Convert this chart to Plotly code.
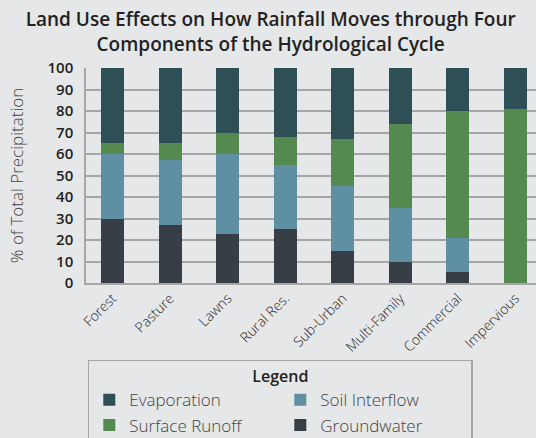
import plotly.graph_objects as go

categories = ["Forest", "Pasture", "Lawns", "Rural Res.", "Sub-Urban", "Multi-Family", "Commercial", "Impervious"]
groundwater = [30, 27, 23, 25, 15, 10, 5, 0]
soil_interflow = [30, 30, 37, 30, 30, 25, 16, 0]
surface_runoff = [5, 8, 10, 13, 22, 39, 59, 81]
evaporation = [35, 35, 30, 32, 33, 26, 20, 19]
y_ticks = [0, 10, 20, 30, 40, 50, 60, 70, 80, 90, 100]

colors = {
    "Groundwater": "#383e46",
    "Soil Interflow": "#5f8fa3",
    "Surface Runoff": "#548a50",
    "Evaporation": "#2f4f57",
}

series = [
    ("Groundwater", groundwater, 4),
    ("Soil Interflow", soil_interflow, 2),
    ("Surface Runoff", surface_runoff, 3),
    ("Evaporation", evaporation, 1),
]

fig = go.Figure()
for name, vals, rank in series:
    fig.add_trace(go.Bar(
        x=categories, y=vals, name=name, width=0.4,
        marker=dict(color=colors[name], line=dict(width=0)),
        legendrank=rank,
    ))

bg = "#e6e7e8"
fig.update_layout(
    barmode="stack",
    width=536, height=438,
    paper_bgcolor=bg, plot_bgcolor=bg,
    margin=dict(l=86, r=0, t=68, b=155, autoexpand=False),
    font=dict(family="Open Sans", color="#333"),
    title=dict(
        text="Land Use Effects on How Rainfall Moves through Four<br>Components of the Hydrological Cycle",
        x=0.505, xanchor="center", y=0.941, yanchor="top",
        font=dict(family="Open Sans", size=19, weight=600, color="#222"),
    ),
    xaxis=dict(
        range=[-0.46, 7.36], tickangle=-45,
        tickfont=dict(family="Open Sans", size=14, weight=300, color="#2a2a2a"),
        showline=True, linecolor="#a6a6a6", linewidth=1.5,
        showgrid=False, ticks="",
    ),
    yaxis=dict(
        range=[0, 100], tickvals=y_ticks,
        tickfont=dict(family="Open Sans", size=15, weight=600, color="#222"),
        gridcolor="#a6a6a6", gridwidth=1.5,
        showline=True, linecolor="#a6a6a6", linewidth=1.5,
        zeroline=False, ticks="", ticklabelstandoff=8,
        title=dict(text="% of Total Precipitation", standoff=20,
                   font=dict(family="Open Sans", size=17, weight=300, color="#444")),
    ),
    legend=dict(
        orientation="h", x=0.004, xanchor="left", y=-0.358, yanchor="top",
        bgcolor=bg, bordercolor="#a6a6a6", borderwidth=1.5,
        entrywidth=146, entrywidthmode="pixels",
        traceorder="normal",
        font=dict(family="Open Sans", size=17, weight=300, color="#444"),
        title=dict(text="Legend", side="top center",
                   font=dict(family="Open Sans", size=16, weight=600, color="#222")),
    ),
)

fig.write_html("out.html", config={"displayModeBar": False},
               post_script="document.body.style.margin='0';")
